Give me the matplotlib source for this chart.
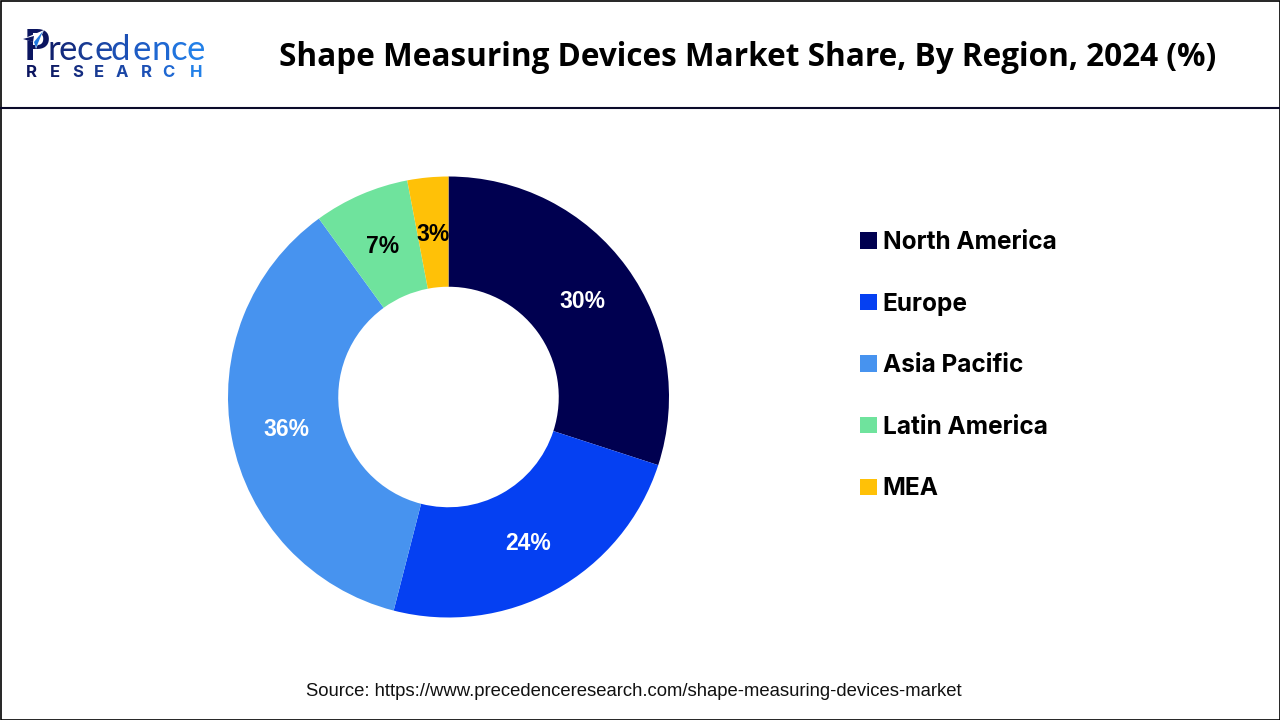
import matplotlib
matplotlib.use("Agg")
import matplotlib.pyplot as plt
from matplotlib.patches import Rectangle, Polygon
from matplotlib.lines import Line2D

regions = ["North America", "Europe", "Asia Pacific", "Latin America", "MEA"]
shares = [30, 24, 36, 7, 3]
colors = ["#000050", "#0540F2", "#4793EF", "#6FE39D", "#FFC107"]
pct_colors = ["white", "white", "white", "black", "black"]
title = "Shape Measuring Devices Market Share, By Region, 2024 (%)"
source = "Source: https://www.precedenceresearch.com/shape-measuring-devices-market"
logo_letters = list("Precedence")
logo_colors = ["#0B1560", "#10206E", "#142C80", "#183A92", "#1A46A5", "#1C50B5", "#1E5CC4", "#1F68D2", "#2074DE", "#2280E8"]
W, H = 1280, 720

fig = plt.figure(figsize=(W / 100, H / 100), dpi=100, facecolor="white")

def px_axes(x0, y0, x1, y1):
    return fig.add_axes([x0 / W, 1 - y1 / H, (x1 - x0) / W, (y1 - y0) / H])

ax = px_axes(228, 176.5, 669, 617.5)
wedges, _, autotexts = ax.pie(
    shares, colors=colors, startangle=90, counterclock=False, radius=1,
    wedgeprops=dict(width=0.5), autopct="%.0f%%", pctdistance=0.75,
    textprops=dict(family="Liberation Sans", fontweight="bold", fontsize=16.5),
)
for t, c in zip(autotexts, pct_colors):
    t.set_color(c)
    x0, y0 = t.get_position()
    t.set_position((x0, y0 - 0.008))
ax.set_xlim(-1, 1)
ax.set_ylim(-1, 1)

ov = fig.add_axes([0, 0, 1, 1], zorder=-1)
ov.set_xlim(0, W)
ov.set_ylim(H, 0)
ov.axis("off")
ov.add_patch(Rectangle((0.5, 0.5), W - 1, H - 1, fill=False, ec="black", lw=1.2))
ov.add_line(Line2D([0, W], [107.5, 107.5], color="#0A0A2A", lw=1.5))

fig.text(747.5 / W, 1 - 57 / H, title, ha="center", va="center",
         family="Open Sans", fontweight="bold", fontsize=22.7, color="black")
fig.text(633.5 / W, 1 - 691 / H, source, ha="center", va="center",
         family="Liberation Sans", fontsize=13.37, color="#111111")

# Logo
ov.text(24, 60, logo_letters[0], fontsize=30, fontweight="bold", family="Lato",
        color=logo_colors[0], va="baseline")
xs = [48, 59, 77, 94, 111, 132, 151, 171, 187]
for ch, c, xp in zip(logo_letters[1:], logo_colors[1:], xs):
    ov.text(xp, 60, ch, fontsize=25, family="Lato", color=c, va="baseline")
ov.add_patch(Polygon([(23, 39), (44, 30), (36, 49), (34, 42)], fc="white", ec="none", zorder=5))
ov.add_patch(Polygon([(34, 42), (43, 31), (36, 48)], fc="#1E78E0", ec="none", zorder=6))
ov.add_patch(Polygon([(23, 39), (34, 36), (33, 42)], fc="#0B1560", ec="none", zorder=6))
for ch, xp, c in zip("RESEARCH", [26, 50, 72, 94, 116, 141, 162, 190],
                     ["#0B1560", "#0F1D68", "#142C80", "#183A92", "#1A46A5", "#1C50B5", "#1F68D2", "#2280E8"]):
    ov.text(xp, 77, ch, fontsize=12, fontweight="bold", family="Inter", color=c, va="baseline")

ax.legend(
    wedges, regions, loc="upper left",
    bbox_to_anchor=(855.5 / W, 1 - 226 / H), bbox_transform=fig.transFigure,
    frameon=False, prop=dict(family="Inter", weight="bold", size=17.6),
    handlelength=0.66, handleheight=0.66, handletextpad=0.25, labelspacing=1.58,
    borderpad=0.2, borderaxespad=0,
)

fig.savefig("out.png", dpi=100)
